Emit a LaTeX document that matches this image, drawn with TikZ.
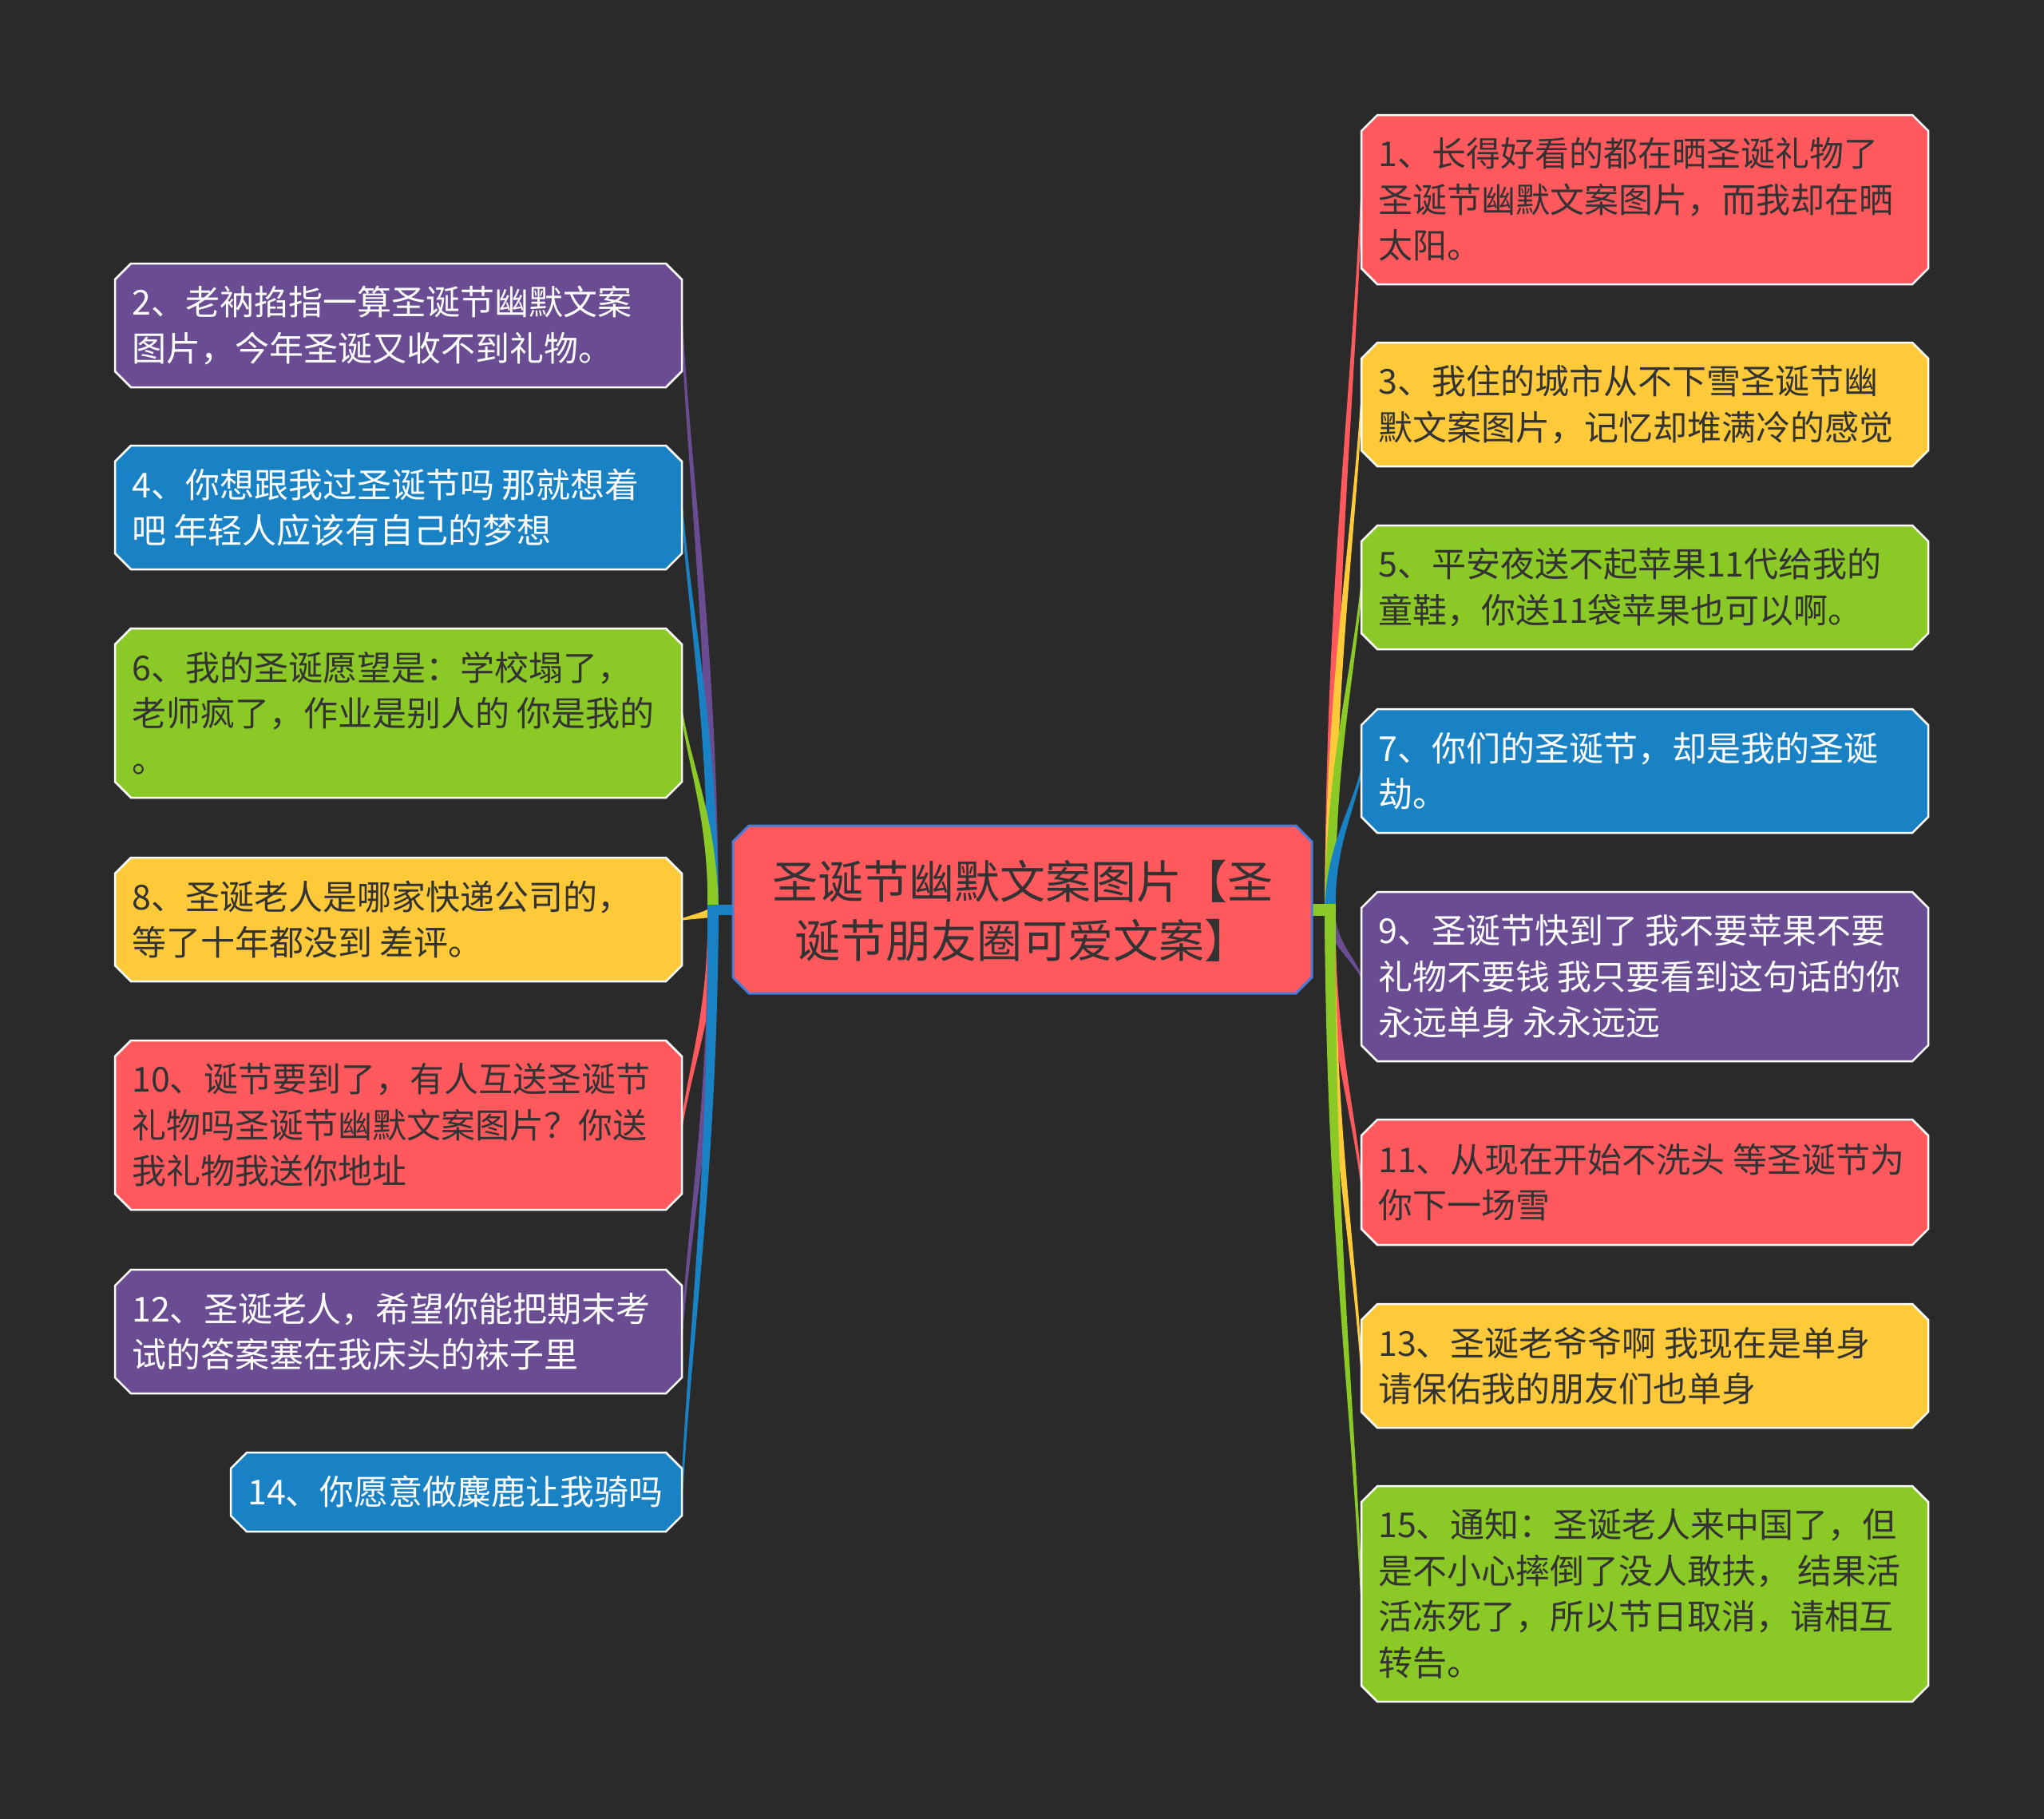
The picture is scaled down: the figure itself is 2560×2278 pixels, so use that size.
\documentclass[tikz,border=0pt]{standalone}
\usepackage{fontspec}
\setmainfont{Noto Sans CJK SC}
\usetikzlibrary{calc}
\definecolor{bgc}{HTML}{2A2A2A}
\definecolor{cred}{HTML}{FF595E}
\definecolor{cyel}{HTML}{FFCA3A}
\definecolor{cgrn}{HTML}{8AC926}
\definecolor{cblu}{HTML}{1982C4}
\definecolor{cpur}{HTML}{6A4C93}
\definecolor{cborder}{HTML}{4A7BD6}
\definecolor{dtext}{HTML}{333333}
\pgfdeclarelayer{backlayer}
\pgfdeclarelayer{linelayer}
\pgfsetlayers{backlayer,linelayer,main}
\tikzset{
  boxanchor/.style={rectangle, inner sep=0pt, outer sep=0pt},
  leaftext/.style={inner sep=0pt, align=left, anchor=west, font=\fontsize{43}{57.5}\selectfont},
  centertext/.style={inner sep=0pt, align=center, text=dtext, font=\fontsize{57}{73.5}\selectfont},
}
% name, x1, y1, x2, y2, fill, textcolor, text
\newcommand\mmleaf[8]{%
  \node[boxanchor, minimum width={#4-#2}, minimum height={#5-#3}] (#1) at ({(#2+#4)/2},{(#3+#5)/2}) {};
  \fill[#6, draw=white, line width=2.5pt] (#2+20,#3) -- (#4-20,#3) -- (#4,#3+20) -- (#4,#5-20) -- (#4-20,#5) -- (#2+20,#5) -- (#2,#5-20) -- (#2,#3+20) -- cycle;
  \node[leaftext, text=#7] (#1t) at (#2+21,{(#3+#5)/2}) {#8};
}
% color, junction, target : tapered curved branch
\newcommand\mmbranch[3]{%
  \path let \p1=(#2), \p2=(#3), \p3=($(#2)!1pt!90:(#3)$) in
    coordinate (bc1a) at ({(\x1)+5*((\x3)-(\x1))},{(\y1)+0.45*((\y2)-(\y1))+5*((\y3)-(\y1))})
    coordinate (bc1b) at ({(\x1)-5*((\x3)-(\x1))},{(\y1)+0.45*((\y2)-(\y1))-5*((\y3)-(\y1))})
    coordinate (bc2a) at ({(\x2)+0.3*((\x1)-(\x2))+2.5*((\x3)-(\x1))},{(\y2)+0.3*((\y1)-(\y2))+2.5*((\y3)-(\y1))})
    coordinate (bc2b) at ({(\x2)+0.3*((\x1)-(\x2))-2.5*((\x3)-(\x1))},{(\y2)+0.3*((\y1)-(\y2))-2.5*((\y3)-(\y1))});
  \fill[#1] ($(#2)!7pt!90:(#3)$) .. controls (bc1a) and (bc2a) .. ($(#3)!1.2pt!-90:(#2)$)
     -- ($(#3)!1.2pt!90:(#2)$) .. controls (bc2b) and (bc1b) .. ($(#2)!7pt!-90:(#3)$) -- cycle;
}
\begin{document}
\begin{tikzpicture}[x=1pt, y=-1pt]
\begin{pgfonlayer}{backlayer}
\fill[bgc] (0,0) rectangle (2560,2278);
\end{pgfonlayer}
\useasboundingbox (0,0) rectangle (2560,2278);

% center
\node[boxanchor, minimum width=725, minimum height=210] (c) at (1280.5,1139) {};
\fill[cred, draw=cborder, line width=3pt] (938,1034) -- (1623,1034) -- (1643,1054) -- (1643,1224) -- (1623,1244) -- (938,1244) -- (918,1224) -- (918,1054) -- cycle;
\node[centertext] (ct) at (1280.5,1141) {圣诞节幽默文案图片【圣\\诞节朋友圈可爱文案】};

\coordinate (JL) at (893,1140);
\coordinate (JR) at (1666,1140);

% left leaves
\mmleaf{n2}{144}{330}{854}{485}{cpur}{white}{2、老衲掐指一算圣诞节幽默文案\\图片，今年圣诞又收不到礼物。}
\mmleaf{n4}{144}{558}{854}{713}{cblu}{white}{4、你想跟我过圣诞节吗 那就想着\\吧 年轻人应该有自己的梦想}
\mmleaf{n6}{144}{787}{854}{999}{cgrn}{dtext}{6、我的圣诞愿望是：学校塌了，\\老师疯了，作业是别人的 你是我的\\。}
\mmleaf{n8}{144}{1074}{854}{1229}{cyel}{dtext}{8、圣诞老人是哪家快递公司的，\\等了十年都没到 差评。}
\mmleaf{n10}{144}{1303}{854}{1515}{cred}{dtext}{10、诞节要到了，有人互送圣诞节\\礼物吗圣诞节幽默文案图片？你送\\我礼物我送你地址}
\mmleaf{n12}{144}{1590}{854}{1745}{cpur}{white}{12、圣诞老人，希望你能把期末考\\试的答案塞在我床头的袜子里}
\mmleaf{n14}{289}{1819}{854}{1918}{cblu}{white}{14、你愿意做麋鹿让我骑吗}

% right leaves
\mmleaf{n1}{1705}{144}{2415}{356}{cred}{dtext}{1、长得好看的都在晒圣诞礼物了\\圣诞节幽默文案图片，而我却在晒\\太阳。}
\mmleaf{n3}{1705}{429}{2415}{584}{cyel}{dtext}{3、我住的城市从不下雪圣诞节幽\\默文案图片，记忆却堆满冷的感觉}
\mmleaf{n5}{1705}{658}{2415}{813}{cgrn}{dtext}{5、平安夜送不起苹果11代给我的\\童鞋，你送11袋苹果也可以啊。}
\mmleaf{n7}{1705}{888}{2415}{1043}{cblu}{white}{7、你们的圣诞节，却是我的圣诞\\劫。}
\mmleaf{n9}{1705}{1117}{2415}{1329}{cpur}{white}{9、圣诞节快到了 我不要苹果不要\\礼物不要钱 我只要看到这句话的你\\永远单身 永永远远}
\mmleaf{n11}{1705}{1402}{2415}{1559}{cred}{dtext}{11、从现在开始不洗头 等圣诞节为\\你下一场雪}
\mmleaf{n13}{1705}{1633}{2415}{1788}{cyel}{dtext}{13、圣诞老爷爷啊 我现在是单身\\请保佑我的朋友们也单身}
\mmleaf{n15}{1705}{1861}{2415}{2131}{cgrn}{dtext}{15、通知：圣诞老人来中国了，但\\是不小心摔倒了没人敢扶， 结果活\\活冻死了，所以节日取消，请相互\\转告。}

\begin{pgfonlayer}{linelayer}
\mmbranch{cpur}{JL}{n2.east}
\mmbranch{cblu}{JL}{n4.east}
\mmbranch{cgrn}{JL}{n6.east}
\mmbranch{cyel}{JL}{n8.east}
\mmbranch{cred}{JL}{n10.east}
\mmbranch{cpur}{JL}{n12.east}
\mmbranch{cblu}{JL}{n14.east}
\fill[cblu] ($(JL)+(-7,-7)$) rectangle ($(c.west)+(2,7)$);
\mmbranch{cred}{JR}{n1.west}
\mmbranch{cyel}{JR}{n3.west}
\mmbranch{cgrn}{JR}{n5.west}
\mmbranch{cblu}{JR}{n7.west}
\mmbranch{cpur}{JR}{n9.west}
\mmbranch{cred}{JR}{n11.west}
\mmbranch{cyel}{JR}{n13.west}
\mmbranch{cgrn}{JR}{n15.west}
\fill[cgrn] ($(c.east)+(-2,-7)$) rectangle ($(JR)+(7,7)$);
\end{pgfonlayer}
\end{tikzpicture}
\end{document}
